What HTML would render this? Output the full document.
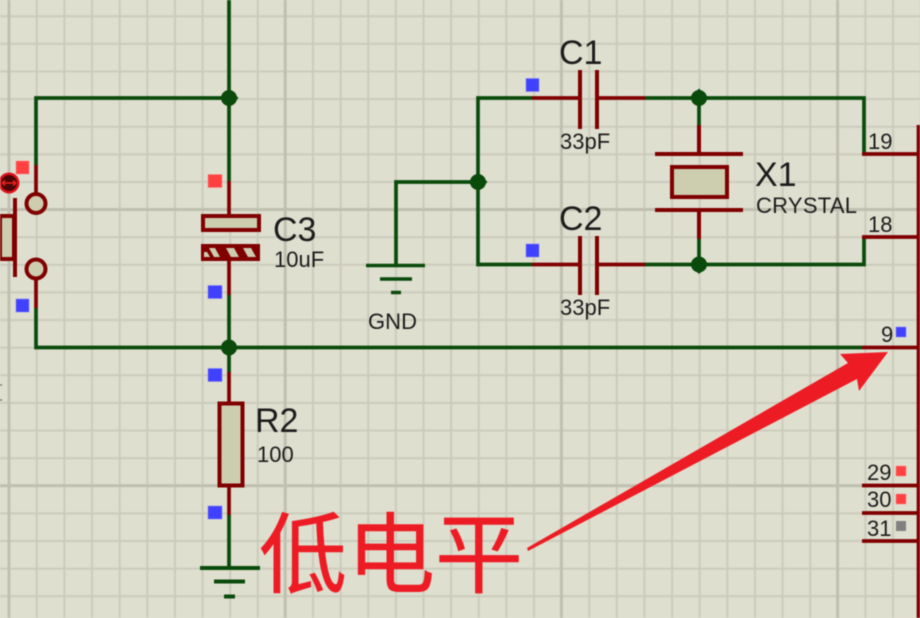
<!DOCTYPE html>
<html><head><meta charset="utf-8"><style>
html,body{margin:0;padding:0;background:#dfdfd0;overflow:hidden}
svg{display:block;filter:blur(.4px)}
text{font-family:"Liberation Sans",sans-serif;fill:#1c1c1c}
</style></head><body>
<svg width="920" height="618" viewBox="0 0 920 618" xmlns="http://www.w3.org/2000/svg">
<defs>
<pattern id="g" width="27.62" height="27.62" patternUnits="userSpaceOnUse" x="8" y="15"><path d="M1.2 0V27.62M0 1.2H27.62" stroke="#cbcbbb" stroke-width="2" fill="none"/></pattern>
<pattern id="m" width="276.2" height="276.2" patternUnits="userSpaceOnUse" x="7.5" y="208"><path d="M1.5 0V276.2M0 1.5H276.2" stroke="#c0c0b0" stroke-width="3" fill="none"/></pattern>
</defs>
<rect width="920" height="618" fill="#dfdfd0"/>
<rect width="920" height="618" fill="url(#g)"/>
<rect width="920" height="618" fill="url(#m)"/>
<path d="M0 385h2M0 400h2" stroke="#777" stroke-width="1.500"/>
<g fill="none" stroke="#0a4a0a" stroke-width="3.700">
<path d="M229 0V181M229 295V372M229 515V568"/>
<path d="M229 98H36V165M36 308V347.500H862"/>
<path d="M532 98H478V264.500H532M645 98H864V153M645 264.500H864V238"/>
<path d="M478 182H396V265"/>
<path d="M699 98V125M699 239V264"/>
<path d="M200 568H260M214 581.500H245M224 596.500H235" stroke-width="4"/>
<path d="M366 265.500H425M380 279H412M391 292.500H401" stroke-width="3.600"/>
</g>
<g fill="#0a4a0a">
<path d="M229 88.500l9.500 9.500l-9.500 9.500l-9.500-9.500zM229 338l9.500 9.500l-9.500 9.500l-9.500-9.500zM478 172.500l9.500 9.500l-9.500 9.500l-9.500-9.500zM699 88.500l9.500 9.500l-9.500 9.500l-9.500-9.500zM699 255l9.500 9.500l-9.500 9.500l-9.500-9.500z"/>
<circle cx="229" cy="98" r="8"/><circle cx="229" cy="347.500" r="8"/><circle cx="478" cy="182" r="8"/><circle cx="699" cy="98" r="8"/><circle cx="699" cy="264.500" r="8"/>
</g>
<g fill="none" stroke="#800000" stroke-width="3.700">
<path d="M229 181V214M229 261V295M229 372V402M229 486V515"/>
<path d="M36 165V194M36 278V308"/>
<path d="M532 98H580M597 98H645M532 264.500H580M597 264.500H645"/>
<path d="M580 70V129M597 70V129M580 236V295M597 236V295" stroke-width="4"/>
<path d="M699 125V153M699 210V239M655 154H743M655 210H743" stroke-width="4"/>
<path d="M862 154H918M862 237H918M862 347.500H918M862 485.500H918M862 513H918M862 541H918"/>
<path d="M918.500 125V618"/>
<path d="M15 198V277" stroke-width="4"/>
</g>
<g fill="#cdcdb0" stroke="#800000" stroke-width="4">
<rect x="672" y="167" width="55" height="30"/>
<rect x="203" y="216" width="56" height="14"/>
<rect x="219.500" y="403.500" width="23" height="82"/>
<rect x="0" y="216" width="14" height="43"/>
<circle cx="36" cy="203.500" r="9.500"/>
<circle cx="36" cy="269" r="9.500"/>
</g>
<rect x="201" y="244" width="59" height="17" fill="#800000"/>
<path d="M209 248l6 0l5 9l-6 0zM226 248l8 0l5 9l-8 0zM243 248l8 0l5 9l-8 0zM204 252l3 0l3 5l-6 0z" fill="#cdcdb0"/>
<circle cx="9" cy="183" r="10.500" fill="#e0101a"/>
<circle cx="9" cy="183" r="8" fill="#4a0505"/>
<path d="M2 183H16M2 183l3-2.500M2 183l3 2.500M16 183l-3-2.500M16 183l-3 2.500" stroke="#ee2020" stroke-width="1.500" fill="none"/>
<g fill="#ff4040" stroke="#ff8080" stroke-width=".5">
<rect x="208" y="174.500" width="14" height="13"/>
<rect x="16" y="161" width="13" height="13"/>
<rect x="896" y="466" width="10" height="10"/>
<rect x="896" y="494" width="10" height="10"/>
</g>
<g fill="#4040ff" stroke="#8080ff" stroke-width=".5">
<rect x="526" y="78.500" width="13" height="13"/>
<rect x="526" y="244" width="13" height="13"/>
<rect x="208" y="285.500" width="14" height="13"/>
<rect x="208" y="368.500" width="14" height="13"/>
<rect x="208" y="506" width="14" height="13"/>
<rect x="16" y="299" width="13" height="13"/>
<rect x="896" y="327" width="10" height="10"/>
</g>
<rect x="896" y="521" width="10" height="10" fill="#808080"/>
<text x="559" y="64" font-size="34">C1</text>
<text x="559" y="230" font-size="34">C2</text>
<text x="273" y="241" font-size="34">C3</text>
<text x="255" y="432" font-size="34">R2</text>
<text x="755" y="186" font-size="34">X1</text>
<text x="560" y="149" font-size="22">33pF</text>
<text x="560" y="315" font-size="22">33pF</text>
<text x="274" y="267" font-size="22">10uF</text>
<text x="257" y="462" font-size="22">100</text>
<text x="756" y="213" font-size="22" textLength="101">CRYSTAL</text>
<text x="368" y="329" font-size="22" textLength="49">GND</text>
<text x="868" y="149" font-size="22">19</text>
<text x="868" y="232" font-size="22">18</text>
<text x="881" y="342" font-size="22">9</text>
<text x="867" y="480" font-size="22">29</text>
<text x="867" y="507" font-size="22">30</text>
<text x="867" y="536" font-size="22">31</text>
<path d="M527 548L848 363L840 354L888 352L859 391L857 379L528 551Z" fill="#ed1c24"/>
<text x="259" y="586" font-size="88" stroke="#ed1c24" stroke-width=".5" style="font-family:'Liberation Sans','Noto Sans CJK SC',sans-serif;fill:#ed1c24">低电平</text>
</svg>
</body></html>
